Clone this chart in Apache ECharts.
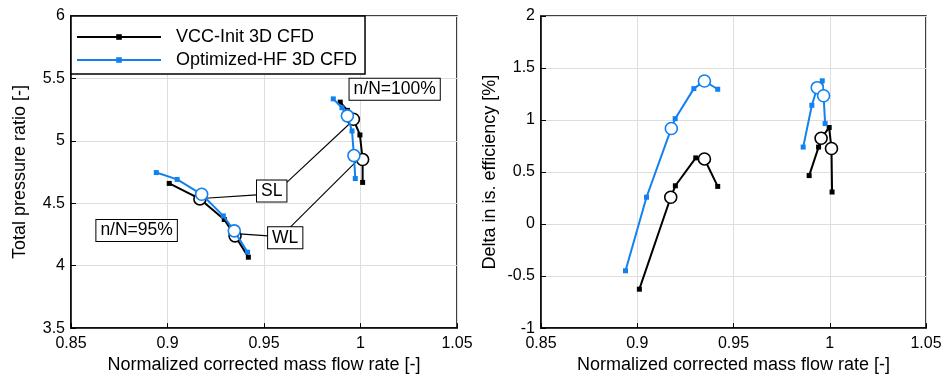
<!DOCTYPE html>
<html><head><meta charset="utf-8">
<script src="https://cdn.jsdelivr.net/npm/echarts@6/dist/echarts.min.js"></script>
<style>html,body{margin:0;padding:0;background:#fff}#c{width:945px;height:379px}</style>
</head><body><div id="c"></div>
<script>
// ---- Data ----
const seriesNames = ['VCC-Init 3D CFD', 'Optimized-HF 3D CFD'];
const xTicks = [0.85, 0.9, 0.95, 1, 1.05];
const prTicks = [3.5, 4, 4.5, 5, 5.5, 6];
const effTicks = [-1, -0.5, 0, 0.5, 1, 1.5, 2];

// Left plot: total pressure ratio vs normalized corrected mass flow
const prInit95X = [0.9009, 0.9168, 0.9294, 0.9350, 0.9419];
const prInit95Y = [4.659, 4.535, 4.370, 4.239, 4.068];
const prInit95Op = [1, 3];
const prOpt95X = [0.8942, 0.9050, 0.9177, 0.9289, 0.9346, 0.9415];
const prOpt95Y = [4.746, 4.691, 4.572, 4.399, 4.279, 4.108];
const prOpt95Op = [2, 4];
const prInit100X = [0.9895, 0.9932, 0.9963, 0.9997, 1.0011, 1.0011];
const prInit100Y = [5.310, 5.244, 5.173, 5.047, 4.850, 4.667];
const prInit100Op = [2, 4];
const prOpt100X = [0.9859, 0.9904, 0.9932, 0.9956, 0.9966, 0.9973];
const prOpt100Y = [5.336, 5.265, 5.200, 5.079, 4.882, 4.698];
const prOpt100Op = [2, 4];

// Right plot: delta in isentropic efficiency vs normalized corrected mass flow
const efInit95X = [0.9011, 0.9174, 0.9198, 0.9304, 0.9349, 0.9418];
const efInit95Y = [-0.626, 0.258, 0.368, 0.636, 0.626, 0.362];
const efInit95Op = [1, 4];
const efOpt95X = [0.8939, 0.9048, 0.9177, 0.9197, 0.9294, 0.9349, 0.9418];
const efOpt95Y = [-0.449, 0.258, 0.919, 1.013, 1.302, 1.375, 1.296];
const efOpt95Op = [2, 5];
const efInit100X = [0.9893, 0.9942, 0.9955, 0.9997, 1.0009, 1.0012];
const efInit100Y = [0.466, 0.740, 0.825, 0.928, 0.726, 0.308];
const efInit100Op = [2, 4];
const efOpt100X = [0.9862, 0.9907, 0.9935, 0.9961, 0.9968, 0.9976];
const efOpt100Y = [0.740, 1.142, 1.311, 1.377, 1.233, 0.966];
const efOpt100Op = [2, 4];

// Annotations (left plot, data coordinates)
const labelTexts = ['n/N=100%', 'SL', 'WL', 'n/N=95%'];
const labelX = [1.0177, 0.954, 0.961, 0.884];
const labelY = [5.413, 4.598, 4.224, 4.281];
const leaderFromX = [0.9462, 0.9618, 0.9522, 0.9635];
const leaderFromY = [4.567, 4.667, 4.239, 4.307];
const leaderToX = [0.9195, 0.9939, 0.9372, 0.998];
const leaderToY = [4.540, 5.131, 4.255, 4.838];

// ---- Styles ----
const FONT = "'Liberation Sans', Arial, Helvetica, sans-serif";
const BLACK = '#000000';
const BLUE = '#1281f0';

const chart = echarts.init(document.getElementById('c'), null, {renderer: 'canvas'});

function zip(xs, ys) { return xs.map((x, i) => [x, ys[i]]); }
function lineSeries(name, xs, ys, color, gi, z) {
  return {
    type: 'line', name: name, xAxisIndex: gi, yAxisIndex: gi,
    data: zip(xs, ys), symbol: 'rect', symbolSize: 5, showSymbol: true,
    lineStyle: {color: color, width: 2}, itemStyle: {color: color},
    animation: false, z: z, silent: true
  };
}
function circleSeries(xs, ys, idx, color, gi, z) {
  return {
    type: 'scatter', xAxisIndex: gi, yAxisIndex: gi,
    data: idx.map(i => [xs[i], ys[i]]), symbol: 'circle', symbolSize: 12,
    itemStyle: {color: '#ffffff', borderColor: color, borderWidth: 1.6, opacity: 1},
    animation: false, z: z, silent: true
  };
}

const grids = [
  {left: 71, top: 16, width: 386, height: 317},
  {left: 541, top: 16, width: 385, height: 317}
];
function xAx(gi) {
  return {
    type: 'value', gridIndex: gi, min: xTicks[0], max: xTicks[xTicks.length - 1], interval: 0.05,
    name: 'Normalized corrected mass flow rate [-]', nameLocation: 'middle', nameGap: 27,
    nameTextStyle: {fontFamily: FONT, fontSize: 18, color: '#000'},
    axisLine: {show: true, onZero: false, lineStyle: {color: '#000', width: 1.5}},
    axisTick: {show: true, inside: true, length: 5, lineStyle: {color: '#000'}},
    axisLabel: {fontFamily: FONT, fontSize: 16, color: '#000', margin: 7,
      formatter: v => String(+v.toFixed(2))},
    splitLine: {show: true, lineStyle: {color: '#dedede', width: 1}}
  };
}
function yAx(gi, ticks, name) {
  return {
    type: 'value', gridIndex: gi, min: ticks[0], max: ticks[ticks.length - 1], interval: 0.5,
    name: name, nameLocation: 'middle', nameGap: 42,
    nameTextStyle: {fontFamily: FONT, fontSize: 18, color: '#000'},
    axisLine: {show: true, onZero: false, lineStyle: {color: '#000', width: 1.5}},
    axisTick: {show: true, inside: true, length: 5, lineStyle: {color: '#000'}},
    axisLabel: {fontFamily: FONT, fontSize: 16, color: '#000', margin: 6,
      formatter: v => String(+v.toFixed(2))},
    splitLine: {show: true, lineStyle: {color: '#dedede', width: 1}}
  };
}

const option = {
  backgroundColor: '#ffffff',
  animation: false,
  grid: grids.map(g => Object.assign({show: true, borderColor: '#000', borderWidth: 1.5, backgroundColor: 'transparent'}, g)),
  xAxis: [xAx(0), xAx(1)],
  yAxis: [yAx(0, prTicks, 'Total pressure ratio [-]'), yAx(1, effTicks, 'Delta in is. efficiency [%]')],
  legend: {
    data: seriesNames, orient: 'vertical', left: 71, top: 16,
    padding: [11, 8, 4, 5], itemGap: 3, itemWidth: 84, itemHeight: 7,
    backgroundColor: '#ffffff', borderColor: '#000', borderWidth: 1.5, borderRadius: 0,
    textStyle: {fontFamily: FONT, fontSize: 18, color: '#000', padding: [0, 0, 0, 10], lineHeight: 20},
    selectedMode: false, z: 20
  },
  series: [
    lineSeries(seriesNames[0], prInit95X, prInit95Y, BLACK, 0, 3),
    lineSeries(seriesNames[0], prInit100X, prInit100Y, BLACK, 0, 3),
    circleSeries(prInit95X, prInit95Y, prInit95Op, BLACK, 0, 4),
    circleSeries(prInit100X, prInit100Y, prInit100Op, BLACK, 0, 4),
    lineSeries(seriesNames[1], prOpt95X, prOpt95Y, BLUE, 0, 5),
    lineSeries(seriesNames[1], prOpt100X, prOpt100Y, BLUE, 0, 5),
    circleSeries(prOpt95X, prOpt95Y, prOpt95Op, BLUE, 0, 6),
    circleSeries(prOpt100X, prOpt100Y, prOpt100Op, BLUE, 0, 6),

    lineSeries(seriesNames[0], efInit95X, efInit95Y, BLACK, 1, 3),
    lineSeries(seriesNames[0], efInit100X, efInit100Y, BLACK, 1, 3),
    circleSeries(efInit95X, efInit95Y, efInit95Op, BLACK, 1, 4),
    circleSeries(efInit100X, efInit100Y, efInit100Op, BLACK, 1, 4),
    lineSeries(seriesNames[1], efOpt95X, efOpt95Y, BLUE, 1, 5),
    lineSeries(seriesNames[1], efOpt100X, efOpt100Y, BLUE, 1, 5),
    circleSeries(efOpt95X, efOpt95Y, efOpt95Op, BLUE, 1, 6),
    circleSeries(efOpt100X, efOpt100Y, efOpt100Op, BLUE, 1, 6)
  ]
};
chart.setOption(option);

// Annotation boxes and leader lines positioned through the axes
const graphics = [];
for (let i = 0; i < leaderFromX.length; i++) {
  const a = chart.convertToPixel({gridIndex: 0}, [leaderFromX[i], leaderFromY[i]]);
  const b = chart.convertToPixel({gridIndex: 0}, [leaderToX[i], leaderToY[i]]);
  graphics.push({type: 'line', z: 1, silent: true,
    shape: {x1: a[0], y1: a[1], x2: b[0], y2: b[1]},
    style: {stroke: '#000', lineWidth: 1.1}});
}
for (let i = 0; i < labelTexts.length; i++) {
  const p = chart.convertToPixel({gridIndex: 0}, [labelX[i], labelY[i]]);
  graphics.push({type: 'text', z: 30, silent: true, x: p[0], y: p[1],
    style: {text: labelTexts[i], font: '17.5px ' + FONT, fill: '#000',
      align: 'center', verticalAlign: 'middle',
      backgroundColor: '#fff', borderColor: '#000', borderWidth: 1, padding: [2, 4, 1, 4]}});
}
chart.setOption({graphic: graphics});
</script>
</body></html>
